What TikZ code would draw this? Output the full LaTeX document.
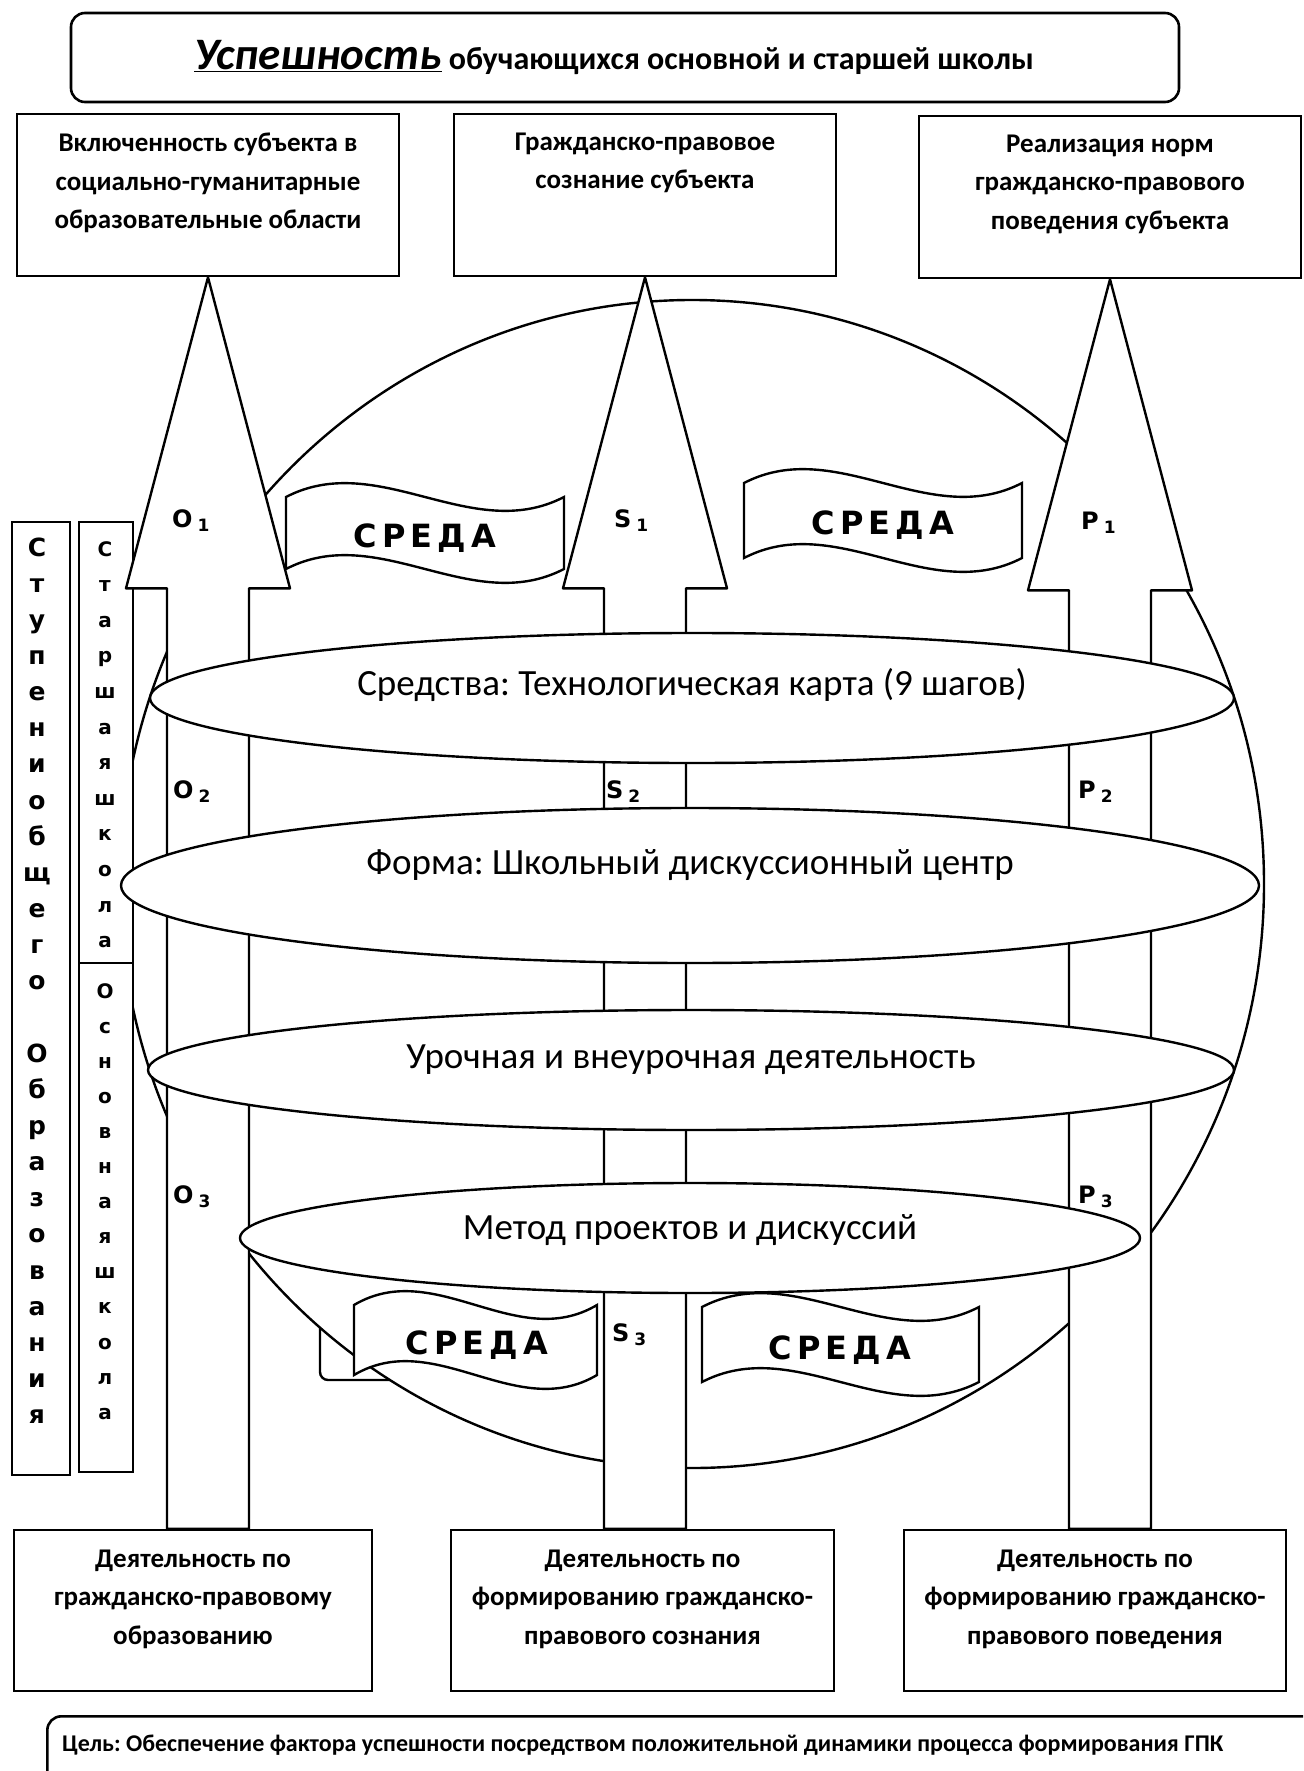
\documentclass[tikz,border=0pt]{standalone}
\usepackage{fontspec}
\setmainfont{Carlito}
\newfontfamily\widefont{DejaVu Sans}
\frenchspacing
\usepackage{tikz}
\usetikzlibrary{calc,positioning,shapes.geometric}

\tikzset{
  box/.style={draw, line width=2.6pt, fill=white, inner sep=0pt},
  boxtext/.style={align=center, inner sep=0pt, font=\fontsize{27}{38.5}\selectfont\bfseries},
  ring/.style={draw, ellipse, line width=2.4pt, fill=white, inner sep=0pt},
  ringtext/.style={inner sep=0pt, font=\fontsize{37}{40}\selectfont},
  bigarrow/.style={draw, line width=2.4pt, fill=white, line join=round},
  flag/.style={draw, line width=2.4pt, fill=white},
  sreda/.style={inner sep=0pt, font=\widefont\fontsize{32}{32}\selectfont\bfseries},
  lbl/.style={anchor=west, inner sep=0pt, font=\widefont\fontsize{24}{24}\selectfont\bfseries},
  colbox/.style={draw, line width=2.4pt, fill=white, inner sep=0pt},
  coltext/.style={inner sep=0pt, text height=12pt, text depth=0pt}
}

\newcommand{\sredaflag}[4]{%
  \draw[flag] (#1,#2) .. controls +(#3/3,-48) and +(-#3/3,48) .. ++(#3,0)
    -- ++(0,#4) .. controls +(-#3/3,48) and +(#3/3,-48) .. ++(-#3,0) -- cycle;}
\newcommand{\sredaword}{С\kern5pt Р\kern5pt Е\kern5pt Д\kern5pt А}
\newcommand{\idxlabel}[2]{#1\kern5pt\raisebox{-4pt}{\fontsize{17}{17}\selectfont #2}}

\begin{document}
\begin{tikzpicture}[x=1pt, y=-1pt]
\useasboundingbox (0,0) rectangle (1303,1771);
\clip (0,0) rectangle (1303,1771);

% title and goal
\node[box, rounded corners=14pt, minimum width=1108, minimum height=89] (title) at (625,57.5) {};
\node[inner sep=0pt, font=\fontsize{32}{32}\selectfont\bfseries] (titletext) at (614,57)
  {{\fontsize{45}{45}\selectfont\underline{\textit{Успешность}}} обучающихся основной и старшей школы};
\node[box, rounded corners=14pt, minimum width=1300, minimum height=110, anchor=north west] (goal) at (46,1715) {};
\node[anchor=west, inner sep=0pt, font=\fontsize{24}{24}\selectfont\bfseries] (goaltext) at (62,1745)
  {Цель: Обеспечение фактора успешности посредством положительной динамики процесса формирования ГПК};

% stray corner and the big circle
\draw[line width=2.4pt, rounded corners=8pt] (320,1300) -- (320,1380) -- (420,1380);
\node[ring, minimum width=1144, minimum height=1168] (globe) at (692,884) {};

% levels
\node[colbox, minimum width=58, minimum height=953] (stage) at (41,998.5) {};
\node[colbox, minimum width=54, minimum height=441] (senior) at (106,742.5) {};
\node[colbox, minimum width=54, minimum height=509] (basic) at (106,1217.5) {};
\foreach \ch [count=\i from 0] in {С,т,у,п,е,н,и,о,б,щ,е,г,о,{},О,б,р,а,з,о,в,а,н,и,я}
  \node[coltext, font=\widefont\fontsize{25}{25}\selectfont\bfseries] (stage\i) at (37,550+36.15*\i) {\ch};
\foreach \ch [count=\i from 0] in {С,т,а,р,ш,а,я,ш,к,о,л,а}
  \node[coltext, font=\widefont\fontsize{20}{20}\selectfont\bfseries] (senior\i) at (105,550+35.6*\i) {\ch};
\foreach \ch [count=\i from 0] in {О,с,н,о,в,н,а,я,ш,к,о,л,а}
  \node[coltext, font=\widefont\fontsize{20}{20}\selectfont\bfseries] (basic\i) at (105,992+35.1*\i) {\ch};

% top and bottom boxes
\node[box, minimum width=382, minimum height=162] (top1) at (208,195) {};
\node[box, minimum width=382, minimum height=162] (top2) at (645,195) {};
\node[box, minimum width=382, minimum height=162] (top3) at (1110,197) {};
\node[box, minimum width=358, minimum height=161] (bot1) at (193,1610.5) {};
\node[box, minimum width=383, minimum height=161] (bot2) at (642.5,1610.5) {};
\node[box, minimum width=382, minimum height=161] (bot3) at (1095,1610.5) {};

\node[boxtext, below=20pt of top1.north] (top1text) {Включенность субъекта в\\социально-гуманитарные\\образовательные области};
\node[boxtext, below=20pt of top2.north] (top2text) {Гражданско-правовое\\сознание субъекта};
\node[boxtext, below=20pt of top3.north] (top3text) {Реализация норм\\гражданско-правового\\поведения субъекта};
\node[boxtext, below=21pt of bot1.north] (bot1text) {Деятельность по\\гражданско-правовому\\образованию};
\node[boxtext, below=21pt of bot2.north] (bot2text) {Деятельность по\\формированию гражданско-\\правового сознания};
\node[boxtext, below=21pt of bot3.north] (bot3text) {Деятельность по\\формированию гражданско-\\правового поведения};

% three arrows
\draw[bigarrow] (top1.south) -- ++(82,311) -- ++(-41,0) -- ($(top1.south |- bot1.north)+(41,0)$)
  -- ++(-82,0) -- ($(top1.south)+(-41,311)$) -- ++(-41,0) -- cycle;
\draw[bigarrow] (top2.south) -- ++(82,311) -- ++(-41,0) -- ($(top2.south |- bot2.north)+(41,0)$)
  -- ++(-82,0) -- ($(top2.south)+(-41,311)$) -- ++(-41,0) -- cycle;
\draw[bigarrow] (top3.south) -- ++(82,311) -- ++(-41,0) -- ($(top3.south |- bot3.north)+(41,0)$)
  -- ++(-82,0) -- ($(top3.south)+(-41,311)$) -- ++(-41,0) -- cycle;

% rings
\node[ring, minimum width=1084, minimum height=130] (means) at (692,698) {};
\node[ring, minimum width=1138, minimum height=155] (form) at (690,885.5) {};
\node[ring, minimum width=1086, minimum height=120] (lessons) at (691,1070) {};
\node[ring, minimum width=900, minimum height=110] (method) at (690,1238) {};
\node[ringtext] (meanstext) at ($(means)+(0,-13)$) {Средства: Технологическая карта (9 шагов)};
\node[ringtext] (formtext) at ($(form)+(0,-20)$) {Форма: Школьный дискуссионный центр};
\node[ringtext] (lessonstext) at ($(lessons)+(0,-10)$) {Урочная и внеурочная деятельность};
\node[ringtext] (methodtext) at ($(method)+(0,-8)$) {Метод проектов и дискуссий};

% flags
\sredaflag{286}{497}{278}{72}
\sredaflag{744}{483}{278}{75}
\sredaflag{354}{1305}{243}{70}
\sredaflag{702}{1307}{277}{75}
\node[sreda] (sreda1) at (425,538) {\sredaword};
\node[sreda] (sreda2) at (883,525) {\sredaword};
\node[sreda] (sreda3) at (477,1345) {\sredaword};
\node[sreda] (sreda4) at (840,1350) {\sredaword};

% labels
\node[lbl] (o1) at (172,521) {\idxlabel{O}{1}};
\node[lbl] (s1) at (614,521) {\idxlabel{S}{1}};
\node[lbl] (p1) at (1081,523) {\idxlabel{P}{1}};
\node[lbl] (o2) at (173,792) {\idxlabel{O}{2}};
\node[lbl] (s2) at (606,792) {\idxlabel{S}{2}};
\node[lbl] (p2) at (1078,792) {\idxlabel{P}{2}};
\node[lbl] (o3) at (173,1197) {\idxlabel{O}{3}};
\node[lbl] (s3) at (612,1335) {\idxlabel{S}{3}};
\node[lbl] (p3) at (1078,1197) {\idxlabel{P}{3}};
\end{tikzpicture}
\end{document}
